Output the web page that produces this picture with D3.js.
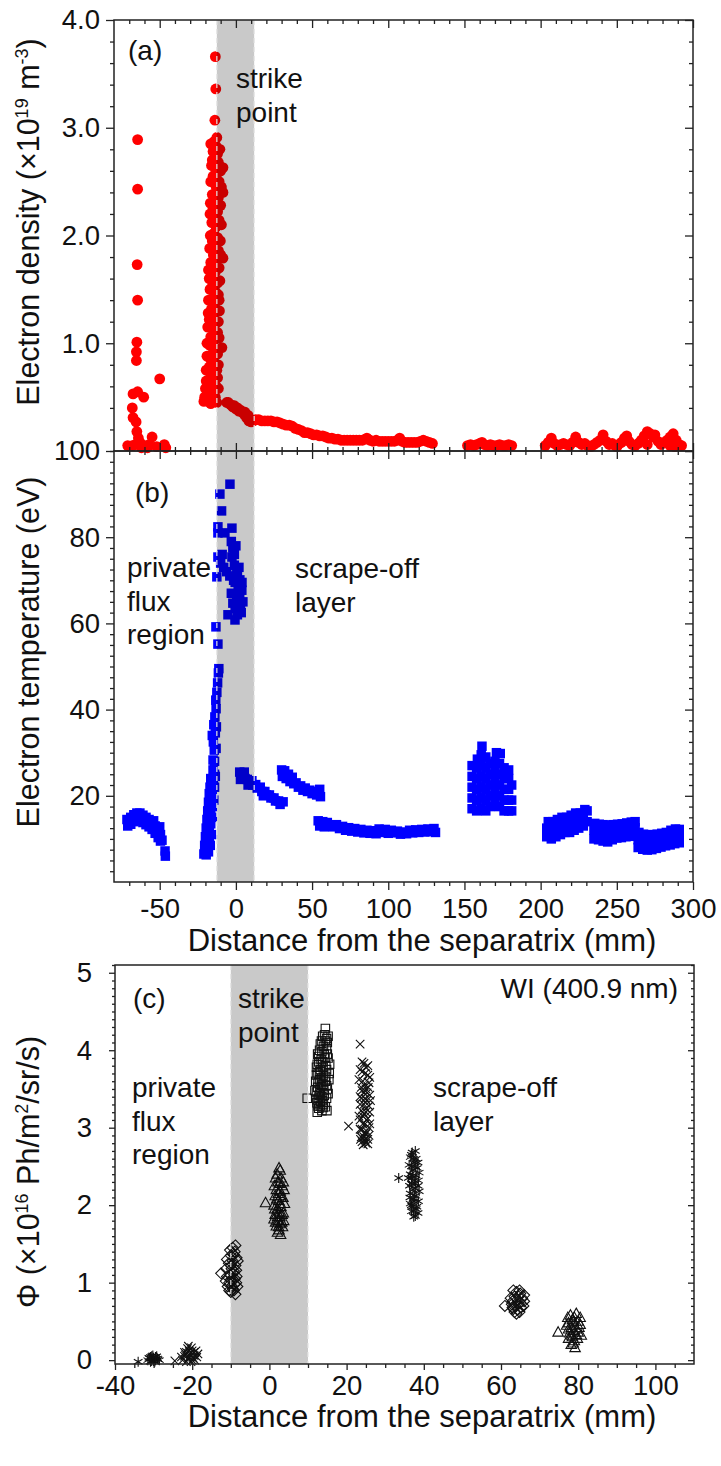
<!DOCTYPE html>
<html>
<head>
<meta charset="utf-8">
<script src="https://cdn.jsdelivr.net/npm/d3@7"></script>
<style>
  body { margin: 0; background: #fff; }
  svg text { font-family: "Liberation Sans", Arial, sans-serif; fill: #111; }
</style>
</head>
<body>
<svg id="chart" width="721" height="1466"></svg>
<script>
// ---- Data -------------------------------------------------------------------
// Panel (a): electron density, [distance mm, density x1e19 m^-3]
const densPrivate = [
  [-64.5, 2.89], [-64.5, 2.43], [-64.8, 1.73], [-64.5, 1.40], [-65, 1.01], [-65.3, 0.92],
  [-65.3, 0.84], [-50, 0.67], [-67.5, 0.53], [-64.5, 0.55], [-60.5, 0.50], [-68, 0.40],
  [-67.5, 0.31], [-65.5, 0.27], [-65, 0.18], [-64, 0.12], [-55, 0.13], [-71, 0.05],
  [-68, 0.05], [-66, 0.06], [-63, 0.08], [-60, 0.05], [-57, 0.06], [-52, 0.04],
  [-47, 0.06], [-46, 0.03], [-62, 0.03], [-58, 0.03]
];
const densPeak = [
  [-13.5, 3.66], [-13.2, 3.36], [-13.8, 3.07], [-12.5, 2.91], [-14.5, 2.87], [-13, 2.83],
  [-15, 2.78], [-12, 2.76], [-14, 2.72], [-11.5, 2.68], [-15.5, 2.70], [-8.5, 2.63],
  [-13.5, 2.62], [-12, 2.58], [-15, 2.55], [-11, 2.50], [-14, 2.48], [-12.8, 2.44],
  [-8.5, 2.40], [-15.5, 2.38], [-11.5, 2.35], [-13.5, 2.32], [-15, 2.25], [-12, 2.22],
  [-14, 2.18], [-11, 2.14], [-15.8, 2.12], [-13, 2.08], [-14.5, 2.02], [-12, 1.98],
  [-15.5, 1.95], [-13.5, 1.90], [-11.5, 1.86], [-14.8, 1.82], [-8.5, 1.79], [-12.8, 1.76],
  [-15, 1.72], [-18, 1.68], [-13.5, 1.66], [-14.8, 1.60], [-12, 1.56], [-15.8, 1.52],
  [-13.5, 1.48], [-11.5, 1.45], [-15, 1.42], [-14, 1.36], [-16, 1.32], [-12.5, 1.30],
  [-14.8, 1.25], [-17.5, 1.22], [-13.5, 1.18], [-15.5, 1.14], [-12, 1.10], [-16.5, 1.06],
  [-14, 1.03], [-17, 0.98], [-9.2, 0.96], [-13, 0.94], [-15.5, 0.90], [-16.5, 0.85],
  [-14, 0.82], [-17.5, 0.78], [-12.5, 0.75], [-15.5, 0.72], [-16.8, 0.68], [-14, 0.65],
  [-17.8, 0.62], [-13, 0.60], [-16, 0.57], [-18.5, 0.55], [-14.5, 0.53], [-17, 0.50],
  [-19.5, 0.47], [-15.5, 0.48], [-18, 0.46], [-13.5, 0.50],
  [-16.5, 2.85], [-10.5, 2.80], [-16, 2.65], [-10, 2.60], [-16.5, 2.50], [-9.5, 2.45],
  [-16.8, 2.30], [-10, 2.28], [-17, 2.20], [-9.5, 2.10], [-16.8, 2.00], [-10.2, 1.95],
  [-17.2, 1.88], [-10, 1.82], [-16.5, 1.75], [-11, 1.70], [-17.5, 1.60], [-10.5, 1.58],
  [-17, 1.50], [-11, 1.40], [-18, 1.40], [-10.8, 1.30], [-18.2, 1.28], [-11.5, 1.20],
  [-18.5, 1.15], [-11, 1.05], [-19, 1.00], [-12, 0.90], [-19, 0.88], [-11.5, 0.80],
  [-19.5, 0.75], [-12, 0.68], [-19.5, 0.65], [-11.5, 0.58], [-20, 0.58], [-12.5, 0.45],
  [-20.5, 0.50], [-16.5, 0.44], [-21, 0.46]
];
const densSol = [
  [-6, 0.45], [-5, 0.45], [-3.5, 0.43], [-2, 0.41], [-1, 0.42], [0, 0.39], [1, 0.40],
  [2, 0.37], [3, 0.38], [4, 0.36], [5.5, 0.34], [6, 0.36], [7, 0.31], [8.5, 0.28],
  [8, 0.33], [10, 0.27], [11.5, 0.28], [13, 0.29], [15, 0.29], [17, 0.28],
  [19, 0.28], [21, 0.28], [23, 0.28], [25, 0.27], [27, 0.27], [29, 0.26], [31, 0.25],
  [33, 0.24], [35, 0.24], [37, 0.23], [39, 0.21], [41, 0.20], [43, 0.19], [45, 0.17],
  [47, 0.17], [49, 0.16], [51, 0.15], [53, 0.15], [55, 0.14], [57, 0.14], [59, 0.13],
  [61, 0.12], [63, 0.12], [65, 0.11], [67, 0.11], [69, 0.10], [71, 0.10], [73, 0.10],
  [75, 0.10], [77, 0.10], [79, 0.10], [81, 0.10], [83, 0.10], [85, 0.11], [86, 0.12],
  [88, 0.10], [90, 0.09], [92, 0.10], [94, 0.09], [96, 0.09], [98, 0.09], [100, 0.09],
  [102, 0.09], [104, 0.09], [106, 0.10], [107.5, 0.12], [109, 0.09], [111, 0.08],
  [113, 0.08], [115, 0.08], [117, 0.08], [119, 0.08], [121, 0.09], [123, 0.10],
  [125, 0.09], [127, 0.08], [129, 0.07]
];
const densFar = [
  [152, 0.05], [154, 0.06], [156, 0.05], [158, 0.06], [160, 0.07], [161.5, 0.08],
  [163, 0.06], [165, 0.05], [167, 0.06], [169, 0.05], [171, 0.05], [173, 0.06],
  [175, 0.05], [177, 0.05], [179, 0.06], [181, 0.05],
  [203, 0.05], [205, 0.08], [207, 0.12], [209, 0.07], [211, 0.05], [213, 0.06],
  [215, 0.07], [217, 0.06], [219, 0.05], [221, 0.08], [223, 0.13], [225, 0.08],
  [227, 0.06], [229, 0.07], [231, 0.05], [233, 0.04], [235, 0.06], [237, 0.08],
  [239, 0.10], [241, 0.15], [243, 0.09], [245, 0.06], [247, 0.07], [249, 0.05],
  [250, 0.04], [251, 0.06], [253, 0.08], [255, 0.12], [256.5, 0.14], [258, 0.09],
  [260, 0.06], [262, 0.05], [264, 0.07], [266, 0.10], [268, 0.14], [270, 0.18],
  [270, 0.06], [272, 0.16], [274, 0.13], [275, 0.15], [277, 0.09], [279, 0.06],
  [281, 0.08], [283, 0.10], [285, 0.13], [285, 0.05], [287, 0.16], [288, 0.04],
  [289, 0.10], [291, 0.06], [292.5, 0.05]
];

// Panel (b): electron temperature, [distance mm, Te eV]
const tempPrivate = [
  [-71.5, 14.5], [-71, 13], [-69, 15], [-69, 13.4], [-67, 15.6], [-67, 14], [-65, 16],
  [-65, 14.3], [-63, 16], [-63, 14.2], [-61, 15.5], [-61, 13.8], [-59, 15], [-59, 13.3],
  [-57, 14.5], [-57, 12.8], [-55, 13.8], [-55, 12.2], [-54, 14.2], [-53, 13], [-53, 11.3],
  [-51, 12], [-51, 10.3], [-50, 12.8], [-49.5, 11], [-49.5, 9.5], [-48.5, 9.7],
  [-46.5, 7.2], [-46.3, 6]
];
const tempPeak = [
  [-19.5, 6.3], [-20.3, 7], [-18, 7], [-19, 8], [-18.5, 9.3], [-17.5, 9.5], [-19.5, 10],
  [-18, 11], [-18.8, 12], [-17.5, 13], [-16.5, 13.5], [-18.2, 14], [-17, 15], [-17.8, 16],
  [-16.5, 17], [-15.5, 17.5], [-17, 18], [-16, 19], [-16.5, 20], [-15.5, 21], [-16, 22],
  [-15, 23], [-14.8, 24], [-14, 25], [-15, 26], [-15, 28.3], [-14.2, 30.6], [-14.8, 32.5],
  [-13.5, 34.6], [-14.5, 36.5], [-13.8, 38.3], [-13, 40.2], [-13.2, 42.2], [-12.5, 44],
  [-12, 46.2], [-11.5, 48.5], [-11.2, 49.5], [-11.8, 55.2], [-13.1, 59.2],
  [-21, 6.5], [-20.5, 8.5], [-20, 10.5], [-19.5, 12.5], [-19, 14.5], [-18.5, 16.5],
  [-18, 18.5], [-17.5, 20.5], [-17, 22], [-16.5, 24], [-15.5, 15], [-16, 11], [-16.8, 8.5],
  [-14.5, 19], [-14, 22], [-13.5, 24.5], [-14, 28], [-13, 31], [-15.5, 34], [-12.8, 36],
  [-3.9, 92.3], [-10.5, 90], [-9.4, 86.1], [-11.8, 82.4], [-11.8, 81], [-2.6, 82.1],
  [-7.2, 81], [-2, 77.5], [-1, 76], [-9, 76], [-2.6, 75.4], [-11.8, 75.4], [-10, 74],
  [-1, 73.5], [-8, 73], [0.6, 72.4], [-6, 72], [-4, 71], [1, 71], [-12.5, 70.8],
  [2.6, 70.1], [-0.5, 69.5], [1.5, 68.5], [3.9, 67.7], [0.5, 66.5], [2.5, 66], [4.6, 65],
  [-2, 64.7], [3, 64], [-0.5, 63.5], [-5.2, 62], [1, 62], [-0.6, 60.8],
  [-3, 79], [0, 78], [-1.5, 70], [2, 73], [-3, 67], [4, 69.5], [1.5, 64.5], [3.5, 62.5]
];
const tempSol = [
  [2.5, 25.5], [3, 23.8], [4, 24.8], [5.5, 25.5], [6, 24], [7.5, 23.8], [8, 22.5],
  [9, 23.2], [10.5, 23.5], [11, 22.5], [13, 22.6], [14, 21.8], [16, 22], [17, 21],
  [18, 20], [19, 21], [20, 20.2], [22, 20.2], [23, 19.5], [25, 19.5], [26, 18.8],
  [28, 18.8], [29, 18], [31, 18.6],
  [30, 26], [30.5, 24.5], [32, 25.8], [33, 24], [34.5, 25], [35.5, 23.3], [37, 24.3],
  [38, 22.8], [39.5, 23], [41, 22], [42.5, 22.3], [44, 21.3], [45.5, 21.8], [47, 21],
  [48.5, 21.3], [50, 20.5], [51.5, 21], [53, 20.2], [54.5, 20.8], [55.5, 19.8], [55, 21.5],
  [54, 14.2], [55, 13], [57, 14], [58, 12.8], [60, 13.8], [62, 13.2], [64, 12.8],
  [66, 13.3], [68, 12.4], [70, 12.9], [72, 12], [74, 12.6], [76, 11.8], [78, 12.4],
  [80, 11.6], [82, 12.2], [84, 11.4], [86, 12], [88, 11.3], [90, 11.9], [92, 11.2],
  [94, 12.3], [96, 11.5], [98, 12.2], [100, 11.3], [102, 12], [104, 11.4], [106, 11.8],
  [108, 11.1], [110, 11.6], [112, 11.2], [114, 12], [116, 11.4], [118, 12.1], [120, 11.5],
  [122, 12.2], [124, 11.6], [126, 12.3], [128, 11.7], [130, 12.4], [131, 11.5]
];
const tempFar = [
  [155, 17], [155, 19.5], [155, 22], [155, 24.5], [155, 27], [158, 16.5], [158, 19],
  [158, 21.5], [158, 24], [158, 26.5], [158.5, 28.5], [161, 17], [161, 19.5], [161, 22],
  [161, 24.5], [161, 27], [161, 29.5], [161.5, 31.5], [164, 16.5], [164, 19], [164, 21.5],
  [164, 24], [164, 26.5], [164, 29], [167, 17.5], [167, 20], [167, 22.5], [167, 25],
  [167, 27.5], [170, 18], [170, 20.5], [170, 23], [170, 25.5], [170, 28], [171, 30],
  [173, 17.5], [173, 20], [173, 22.5], [173, 25], [173, 27.5], [173.5, 29.8], [176, 16.5],
  [176, 19], [176, 21.5], [176, 24], [176, 26.5], [179, 16.5], [179, 19], [179, 21.5],
  [179, 24], [179, 26], [181, 16.5], [181, 19], [181, 22.5],
  [204, 10.5], [204, 12.5], [205, 14], [207, 10], [207, 12], [208, 14], [210, 10.5],
  [210, 12.5], [211, 14.5], [213, 11], [213, 13], [214, 15], [216, 11.5], [216, 13.5],
  [217, 15], [219, 11.5], [219, 13.5], [220, 15.5], [222, 12], [222, 14], [223, 16],
  [225, 12.5], [225, 14.5], [226, 16], [228, 13], [228, 15], [229, 16.8], [230.5, 14],
  [230.5, 16.5],
  [235, 10], [235, 12], [235.5, 13.6], [238, 9.8], [238, 11.8], [238.5, 13.4], [241, 9.5],
  [241, 11.5], [241, 13.3], [244, 9.3], [244, 11.3], [244.5, 13.2], [247, 9.8], [247, 11.8],
  [247.5, 13.3], [250, 10.2], [250, 12], [250.5, 13.4], [253, 10.3], [253, 12.2],
  [253.5, 13.5], [256, 10.5], [256, 12.3], [256.5, 13.7], [259, 10.6], [259, 12.5],
  [259.5, 13.9], [262, 10.8], [262, 12.6], [262, 14],
  [264, 8], [264, 9.8], [264.5, 11.5], [267, 7.6], [267, 9.4], [267.5, 11.1], [270, 7.4],
  [270, 9.2], [270.5, 10.9], [273, 7.5], [273, 9.3], [273.5, 11], [276, 7.8], [276, 9.5],
  [276.5, 11.1], [279, 8.1], [279, 9.8], [279.5, 11.3], [282, 8.4], [282, 10.1],
  [282.5, 11.5], [285, 8.6], [285, 10.4], [285.5, 12], [288, 8.9], [288, 10.7],
  [288.5, 12.3], [291, 9.1], [291, 10.8], [291, 12.2]
];

// Panel (c): WI photon flux, [distance mm, flux x1e16 Ph/m2/sr/s], one array per probe
const fluxStarA = [
  [-31, 0.02], [-30.5, -0.01], [-30, 0.03], [-29.5, 0.0], [-29, 0.02], [-30.2, 0.06],
  [-29.7, -0.02], [-30.8, 0.04], [-28.8, 0.01], [-31.5, 0.0], [-34, -0.02],
  [-30.5, 0.05], [-29.2, 0.05], [-31.2, 0.03], [-30, -0.01], [-28.5, 0.0], [-30.8, -0.02],
  [-29.5, 0.04]
];
const fluxCrossA = [
  [-22, 0.05], [-21.5, 0.10], [-21, 0.02], [-20.5, 0.08], [-20, 0.0], [-19.5, 0.06],
  [-19, 0.12], [-21.2, 0.15], [-20.3, -0.02], [-22.5, 0.0], [-19.8, 0.03], [-18.8, 0.04],
  [-24.5, -0.01], [-20.8, 0.12], [-21.8, 0.07], [-22, 0.10], [-20, 0.12], [-19.3, 0.0],
  [-21.5, -0.02], [-20.8, 0.04], [-19.5, 0.10], [-22.8, 0.04], [-18.5, 0.08], [-21, 0.18],
  [-20.2, 0.16]
];
const fluxDiamondA = [
  [-9.5, 1.45], [-9, 1.40], [-10, 1.35], [-8.5, 1.32], [-9.5, 1.28], [-10.5, 1.25],
  [-8.8, 1.22], [-9.8, 1.18], [-12.5, 1.12], [-9.2, 1.15], [-10.2, 1.10], [-8.5, 1.08],
  [-9.6, 1.05], [-10.4, 1.00], [-9, 0.98], [-8.3, 0.95], [-9.5, 0.92], [-10, 0.88],
  [-8.8, 1.48], [-10.2, 1.42], [-9.2, 1.36], [-11, 1.30], [-8.2, 1.28], [-10, 1.22],
  [-11.2, 1.18], [-8.6, 1.16], [-9.4, 1.12], [-11, 1.08], [-8.9, 1.05], [-10, 1.04],
  [-11.3, 1.02], [-8.6, 1.00], [-9.8, 0.96], [-10.8, 0.95], [-9.2, 0.90], [-8.8, 0.85],
  [-10.4, 0.90]
];
const fluxTriangleA = [
  [2.5, 2.48], [2, 2.40], [3, 2.35], [2.2, 2.30], [3.3, 2.25], [1.8, 2.20], [2.8, 2.18],
  [1.5, 2.12], [3.5, 2.10], [2.4, 2.06], [-1, 2.03], [1.2, 2.00], [3, 1.98], [2, 1.95],
  [3.6, 1.90], [1.5, 1.88], [2.7, 1.85], [2.2, 1.80], [3.2, 1.78], [1.8, 1.73], [2.5, 1.68],
  [2.8, 2.45], [1.6, 2.35], [3.6, 2.30], [2.6, 2.28], [1.3, 2.25], [3.8, 2.20], [2.3, 2.15],
  [3, 2.12], [1.9, 2.08], [3.9, 2.02], [2.8, 2.02], [1.4, 1.95], [2.5, 1.92], [3.3, 1.88],
  [2.1, 1.85], [1.2, 1.82], [3.7, 1.80], [2.8, 1.76], [1.6, 1.78], [2.4, 1.72], [3.4, 1.72],
  [2.1, 1.65], [2.9, 1.62]
];
const fluxSquare = [
  [14.5, 4.28], [14.3, 4.20], [14.8, 4.15], [13.5, 4.12], [15, 4.10], [14, 4.05], [13, 4.00],
  [12.5, 3.95], [14.2, 3.95], [15.2, 3.90], [12.8, 3.85], [13.8, 3.85], [14.6, 3.80],
  [12.2, 3.78], [13.2, 3.75], [15.5, 3.70], [12.6, 3.70], [14, 3.68], [13, 3.62], [12, 3.60],
  [14.5, 3.60], [13.5, 3.55], [12.5, 3.52], [15, 3.50], [11.8, 3.48], [13.2, 3.45],
  [14.2, 3.42], [12.7, 3.38], [9.8, 3.38], [13.8, 3.35], [12.3, 3.32], [13.2, 3.28],
  [14.5, 3.27], [12.8, 3.25], [13.6, 3.22],
  [13.8, 4.18], [15.2, 4.18], [14.5, 4.12], [13.2, 4.08], [14.8, 4.02], [13.6, 3.98],
  [15, 3.95], [12.8, 3.92], [14.4, 3.90], [13.4, 3.88], [15.6, 3.82], [12.4, 3.82],
  [13.9, 3.78], [14.8, 3.75], [13.1, 3.72], [12.2, 3.68], [14.6, 3.66], [13.5, 3.64],
  [15.4, 3.62], [12.6, 3.58], [13.9, 3.56], [14.8, 3.54], [13.1, 3.50], [12.2, 3.46],
  [14.1, 3.48], [15.2, 3.44], [12.9, 3.42], [13.6, 3.40], [14.8, 3.38], [12.4, 3.36],
  [13.2, 3.34], [14, 3.30], [12.6, 3.28], [13.9, 3.26], [14.9, 3.22], [12.4, 3.20]
];
const fluxCrossB = [
  [23.5, 4.08], [24.5, 3.83], [25, 3.78], [24, 3.72], [25.5, 3.68], [24.2, 3.60],
  [25.8, 3.58], [23.8, 3.52], [25, 3.50], [24.5, 3.45], [26, 3.42], [23.5, 3.40],
  [25.2, 3.35], [24.5, 3.30], [25.8, 3.28], [23.8, 3.22], [25, 3.20], [24.2, 3.15],
  [25.5, 3.12], [23.5, 3.10], [24.8, 3.05], [20.5, 3.02], [25.8, 3.00], [24, 2.98],
  [25, 2.92], [24.5, 2.88], [25.5, 2.85], [24, 2.82], [25, 2.80],
  [24, 3.85], [25.5, 3.80], [23.5, 3.75], [24.8, 3.70], [26, 3.65], [23.2, 3.62],
  [24.6, 3.55], [25.6, 3.52], [24, 3.48], [25.3, 3.45], [23.8, 3.38], [24.8, 3.38],
  [26.2, 3.35], [23.5, 3.30], [25, 3.25], [26, 3.20], [24.5, 3.18], [23.2, 3.15],
  [25.2, 3.10], [24.2, 3.05], [26, 3.05], [23.5, 2.98], [25.3, 2.95], [24.5, 2.93],
  [23.8, 2.88], [25.8, 2.90], [24.8, 2.84], [24.3, 2.78], [25.5, 2.79], [23.6, 2.85]
];
const fluxStarB = [
  [37, 2.68], [36.5, 2.62], [38, 2.60], [37.5, 2.55], [36.8, 2.50], [38.3, 2.48],
  [37.2, 2.45], [36.5, 2.40], [38, 2.38], [33.5, 2.35], [37.5, 2.32], [36.8, 2.28],
  [38.5, 2.25], [37.2, 2.20], [36.5, 2.15], [38, 2.12], [37.5, 2.05], [36.8, 2.00],
  [38.2, 1.98], [37.3, 1.92], [37.8, 1.86],
  [37.8, 2.70], [36.8, 2.65], [38.5, 2.55], [36.2, 2.52], [37.8, 2.50], [38.8, 2.42],
  [37, 2.38], [36, 2.35], [38.6, 2.32], [37.8, 2.28], [36.3, 2.25], [37.8, 2.22],
  [38.8, 2.18], [36.4, 2.10], [37.6, 2.12], [38.6, 2.05], [36.5, 2.02], [37.2, 2.08],
  [38, 1.95], [36.8, 1.92], [38.5, 1.90], [37.4, 1.85], [37, 1.98], [36.9, 2.35], [37.3, 2.60]
];
const fluxDiamondB = [
  [64, 0.88], [65, 0.86], [63.5, 0.82], [65.5, 0.80], [64.2, 0.78], [63, 0.76], [65, 0.74],
  [64.5, 0.72], [61, 0.70], [63.8, 0.70], [65.2, 0.68], [64.4, 0.65], [63.5, 0.62],
  [63.2, 0.90], [64.8, 0.90], [66, 0.84], [62.5, 0.80], [64.6, 0.82], [66, 0.76],
  [62.8, 0.72], [65.8, 0.70], [63.2, 0.66], [64.8, 0.62], [64, 0.60], [63, 0.68]
];
const fluxTriangleB = [
  [78, 0.58], [79, 0.55], [78.5, 0.52], [80, 0.50], [77.5, 0.48], [79, 0.45], [78.2, 0.42],
  [80.2, 0.42], [78.8, 0.38], [74.8, 0.36], [77.8, 0.35], [79.5, 0.33], [78.5, 0.30],
  [79, 0.25], [78.2, 0.20],
  [79.5, 0.60], [77.3, 0.55], [80.5, 0.55], [78.8, 0.50], [77, 0.45], [80.5, 0.46],
  [79.6, 0.40], [77.5, 0.40], [80, 0.36], [78.3, 0.32], [80.8, 0.32], [77.5, 0.28],
  [79.8, 0.28], [78.7, 0.22], [79.2, 0.16]
];

// Axis ticks
const xTicksAB = [-50, 0, 50, 100, 150, 200, 250, 300];
const yTicksA = [1, 2, 3, 4];
const yTicksB = [20, 40, 60, 80, 100];
const xTicksC = [-40, -20, 0, 20, 40, 60, 80, 100];
const yTicksC = [0, 1, 2, 3, 4, 5];

// ---- Layout / scales --------------------------------------------------------
const svg = d3.select("#chart");
const ink = "#222";
const L = 114, R = 693;
const topA = 20, midAB = 451, botB = 882;
const topC = 965, botC = 1364, LC = 115, RC = 694;

const x = d3.scaleLinear().domain([-80, 300]).range([L, R]);
const yA = d3.scaleLinear().domain([0, 4]).range([midAB, topA]);
const yB = d3.scaleLinear().domain([0, 100]).range([botB, midAB]);
const xC = d3.scaleLinear().domain([-40, 110]).range([LC, RC]);
const yC = d3.scaleLinear().domain([-0.05, 5.1]).range([botC, topC]);

const minorOf = (lo, hi, step, majors) =>
  d3.range(lo, hi + step / 2, step).filter(v => !majors.some(m => Math.abs(m - v) < 1e-6));
const plain = d => String(d);   // hyphen minus, as in the figure

// ---- Symbols ----------------------------------------------------------------
const symSquare = { draw(c, s) { const r = Math.sqrt(s) / 2; c.rect(-r, -r, 2 * r, 2 * r); } };
const symTri = { draw(c, s) { const r = Math.sqrt(s) / 2; c.moveTo(0, -r * 1.05); c.lineTo(r, r * 0.75); c.lineTo(-r, r * 0.75); c.closePath(); } };
const symDiamond = { draw(c, s) { const r = Math.sqrt(s) / 2; c.moveTo(0, -r); c.lineTo(r, 0); c.lineTo(0, r); c.lineTo(-r, 0); c.closePath(); } };
const symX = { draw(c, s) { const r = Math.sqrt(s) / 2; c.moveTo(-r, -r); c.lineTo(r, r); c.moveTo(r, -r); c.lineTo(-r, r); } };
const symStar = { draw(c, s) {
  const r = Math.sqrt(s) / 2;
  [90, 30, 150].forEach(a => { const dx = r * Math.cos(a * Math.PI / 180), dy = r * Math.sin(a * Math.PI / 180); c.moveTo(dx, dy); c.lineTo(-dx, -dy); });
} };

// ---- Panel (a) points -------------------------------------------------------
const gA = svg.append("g");
gA.selectAll("circle")
  .data([...densPrivate, ...densPeak, ...densSol, ...densFar])
  .join("circle")
  .attr("cx", d => x(d[0])).attr("cy", d => yA(d[1]))
  .attr("r", 5.4).attr("fill", "#ff0000");

// ---- Panel (b) points -------------------------------------------------------
const gB = svg.append("g");
gB.selectAll("path")
  .data([...tempPrivate, ...tempPeak, ...tempSol, ...tempFar])
  .join("path")
  .attr("transform", d => `translate(${x(d[0])},${yB(d[1])})`)
  .attr("d", d3.symbol().type(symSquare).size(90))
  .attr("fill", "#0000ff");

// ---- Panel (c) points -------------------------------------------------------
const gC = svg.append("g").attr("fill", "none").attr("stroke", "#111").attr("stroke-width", 1.1);
const groupsC = [
  [fluxStarA, symStar, 100], [fluxCrossA, symX, 70], [fluxDiamondA, symDiamond, 120],
  [fluxTriangleA, symTri, 110], [fluxSquare, symSquare, 72], [fluxCrossB, symX, 72],
  [fluxStarB, symStar, 100], [fluxDiamondB, symDiamond, 120], [fluxTriangleB, symTri, 110]
];
groupsC.forEach(([data, type, size]) => {
  gC.append("g").selectAll("path")
    .data(data)
    .join("path")
    .attr("transform", d => `translate(${xC(d[0])},${yC(d[1])})`)
    .attr("d", d3.symbol().type(type).size(size));
});

// ---- Strike-point bands (semi-transparent overlay) ---------------------------
function band(xs, x0, x1, y0, y1) {
  const g = svg.append("g");
  g.append("rect").attr("x", xs(x0)).attr("y", y0)
    .attr("width", xs(x1) - xs(x0)).attr("height", y1 - y0)
    .attr("fill", "#000").attr("opacity", 0.21);
  [x0, x1].forEach(v => g.append("line")
    .attr("x1", xs(v)).attr("x2", xs(v)).attr("y1", y0).attr("y2", y1)
    .attr("stroke", "#e4e4e4").attr("stroke-width", 1.2).attr("stroke-dasharray", "5,4"));
}
band(x, -12.5, 12, topA, botB);
band(xC, -10, 10, topC, botC);

// ---- Axes -------------------------------------------------------------------
function axis(gen, tx, ty) {
  const g = svg.append("g").attr("transform", `translate(${tx},${ty})`).call(gen);
  g.select(".domain").remove();
  g.selectAll("line").attr("stroke", ink).attr("stroke-width", 1.3);
  g.selectAll("text").attr("font-size", 27.5).attr("fill", "#111");
  return g;
}
const none = () => "";

// panel (a)
axis(d3.axisLeft(yA).tickValues(yTicksA).tickSize(8).tickPadding(6).tickFormat(d3.format(".1f")), L, 0);
axis(d3.axisLeft(yA).tickValues(minorOf(0, 4, 0.2, yTicksA)).tickSize(4).tickFormat(none), L, 0);
axis(d3.axisRight(yA).tickValues([0, ...yTicksA]).tickSize(-8).tickFormat(none), R, 0);
axis(d3.axisRight(yA).tickValues(minorOf(0, 4, 0.2, [0, ...yTicksA])).tickSize(-4).tickFormat(none), R, 0);
axis(d3.axisTop(x).tickValues(xTicksAB).tickSize(-8).tickFormat(none), 0, topA);
axis(d3.axisTop(x).tickValues(minorOf(-70, 290, 10, xTicksAB)).tickSize(-4).tickFormat(none), 0, topA);
axis(d3.axisBottom(x).tickValues(xTicksAB).tickSize(-8).tickFormat(none), 0, midAB);
axis(d3.axisBottom(x).tickValues(minorOf(-70, 290, 10, xTicksAB)).tickSize(-4).tickFormat(none), 0, midAB);

// panel (b)
axis(d3.axisTop(x).tickValues(xTicksAB).tickSize(-8).tickFormat(none), 0, midAB);
axis(d3.axisTop(x).tickValues(minorOf(-70, 290, 10, xTicksAB)).tickSize(-4).tickFormat(none), 0, midAB);
axis(d3.axisLeft(yB).tickValues(yTicksB).tickSize(8).tickPadding(6).tickFormat(plain), L, 0);
axis(d3.axisLeft(yB).tickValues(minorOf(2.5, 97.5, 2.5, yTicksB)).tickSize(4).tickFormat(none), L, 0);
axis(d3.axisRight(yB).tickValues(yTicksB).tickSize(-8).tickFormat(none), R, 0);
axis(d3.axisRight(yB).tickValues(minorOf(2.5, 97.5, 2.5, yTicksB)).tickSize(-4).tickFormat(none), R, 0);
axis(d3.axisBottom(x).tickValues(xTicksAB).tickSize(8).tickPadding(8).tickFormat(plain), 0, botB);
axis(d3.axisBottom(x).tickValues(minorOf(-70, 290, 10, xTicksAB)).tickSize(4).tickFormat(none), 0, botB);

// panel (c)
axis(d3.axisLeft(yC).tickValues(yTicksC).tickSize(6).tickPadding(17).tickFormat(plain), LC, 0);
axis(d3.axisLeft(yC).tickValues(minorOf(0, 5.1, 0.1, yTicksC)).tickSize(3).tickFormat(none), LC, 0);
axis(d3.axisRight(yC).tickValues(yTicksC).tickSize(-6).tickFormat(none), RC, 0);
axis(d3.axisRight(yC).tickValues(minorOf(0, 5.1, 0.1, yTicksC)).tickSize(-3).tickFormat(none), RC, 0);
axis(d3.axisBottom(xC).tickValues(xTicksC).tickSize(6).tickPadding(5).tickFormat(plain), 0, botC);
axis(d3.axisBottom(xC).tickValues(minorOf(-35, 105, 5, xTicksC)).tickSize(4).tickFormat(none), 0, botC);

// frames
const frame = (x0, y0, x1, y1) => svg.append("rect")
  .attr("x", x0).attr("y", y0).attr("width", x1 - x0).attr("height", y1 - y0)
  .attr("fill", "none").attr("stroke", ink).attr("stroke-width", 1.5);
frame(L, topA, R, midAB);
frame(L, midAB, R, botB);
frame(LC, topC, RC, botC);

// ---- Titles & annotations ---------------------------------------------------
function yTitle(cx, cy, parts) {
  const t = svg.append("text")
    .attr("transform", `translate(${cx},${cy}) rotate(-90)`)
    .attr("text-anchor", "middle").attr("font-size", 30.5);
  let lifted = false;
  parts.forEach(([s, sup]) => {
    const sp = t.append("tspan").text(s);
    if (sup) { sp.attr("font-size", 18).attr("dy", -11); lifted = true; }
    else if (lifted) { sp.attr("dy", 11); lifted = false; }
  });
}
yTitle(39, 222, [["Electron density (\u00d710"], ["19", true], [" m"], ["-3", true], [")"]]);
yTitle(39, 652, [["Electron temperature (eV)"]]);
yTitle(39, 1172, [["\u03a6 (\u00d710"], ["16", true], [" Ph/m"], ["2", true], ["/sr/s)"]]);

const xTitle = (cx, by) => svg.append("text").attr("x", cx).attr("y", by)
  .attr("text-anchor", "middle").attr("font-size", 31)
  .text("Distance from the separatrix (mm)");
xTitle(422, 951);
xTitle(422, 1427);

function note(x0, y0, lines, anchor = "start") {
  lines.forEach((s, i) => svg.append("text")
    .attr("x", x0).attr("y", y0 + i * 33.5)
    .attr("text-anchor", anchor).attr("font-size", 28).text(s));
}
note(128, 60, ["(a)"]);
note(236, 88, ["strike", "point"]);
note(135, 502, ["(b)"]);
note(127, 577, ["private", "flux", "region"]);
note(295, 578, ["scrape-off", "layer"]);
note(133, 1008, ["(c)"]);
note(238, 1008, ["strike", "point"]);
note(132, 1097, ["private", "flux", "region"]);
note(433, 1097, ["scrape-off", "layer"]);
note(678, 998, ["WI (400.9 nm)"], "end");
</script>
</body>
</html>
